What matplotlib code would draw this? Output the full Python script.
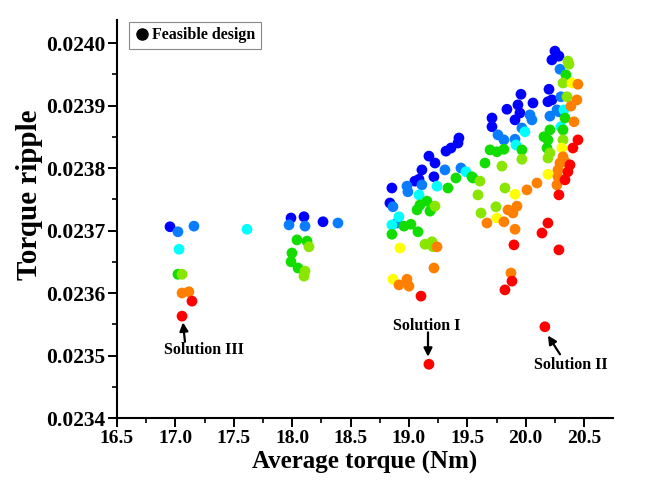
import matplotlib
matplotlib.use("Agg")
import matplotlib.pyplot as plt
from matplotlib.colors import ListedColormap
from matplotlib.lines import Line2D
from matplotlib.ticker import MultipleLocator, FormatStrFormatter

plt.rcParams['font.family'] = ['Liberation Serif', 'DejaVu Serif']
plt.rcParams['font.weight'] = 'bold'

# colour level of each design (0 = blue ... 7 = red)
level_colors = ['#0000ff', '#0a7dff', '#00ffff', '#11dd00', '#88e600',
                '#ffff00', '#ff8000', '#ff0000']

torque = [
    # level 0
    16.954, 17.990, 18.101, 18.264, 18.854, 18.837, 19.051, 19.086, 19.111, 19.171,
    19.223, 19.214, 19.317, 19.360, 19.428, 19.420, 19.959, 19.839, 19.933, 20.062,
    19.711, 19.711, 19.908, 19.950, 20.250, 20.284, 20.224, 20.199, 20.224, 20.190,
    # level 1
    17.022, 17.159, 17.973, 18.110, 18.392, 19.111, 18.983, 18.991, 18.863, 18.897,
    19.308, 19.445, 20.036, 20.053, 19.762, 19.813, 19.967, 19.908, 20.293, 20.301,
    20.284, 20.207, 20.267,
    # level 2
    17.613, 17.031, 19.240, 19.086, 18.914, 18.854, 19.488, 19.993, 19.916, 20.327,
    20.301,
    # level 3
    17.022, 18.041, 18.127, 17.998, 17.990, 18.050, 19.402, 19.334, 19.548, 19.154,
    19.094, 19.069, 19.180, 19.017, 18.957, 18.854, 19.077, 19.206, 19.694, 19.753,
    19.813, 19.967, 19.651, 19.539, 20.344, 20.336, 20.319, 20.207, 20.156, 20.190,
    20.182,
    # level 4
    17.057, 18.144, 18.110, 18.101, 19.591, 19.223, 19.137, 19.197, 19.206, 19.796,
    19.608, 19.967, 19.822, 19.745, 19.617, 20.361, 20.370, 20.319, 20.353, 20.319,
    20.207, 20.190,
    # level 5
    18.923, 18.863, 19.908, 19.753, 20.396, 20.310, 20.190,
    # level 6
    17.057, 17.116, 19.240, 18.983, 18.914, 19.000, 19.214, 20.010, 20.096, 19.848,
    19.925, 19.890, 19.668, 19.813, 19.908, 19.873, 20.447, 20.438, 20.387, 20.413,
    20.319, 20.293, 20.336, 20.276, 20.276, 20.267,
    # level 7
    17.142, 17.057, 19.103, 19.171, 19.899, 20.139, 20.190, 20.284, 19.882, 19.822,
    20.164, 20.447, 20.404, 20.379, 20.361, 20.336, 20.284,
]

ripple = [
    # level 0
    0.023706, 0.023720, 0.023722, 0.023714, 0.023768, 0.023744, 0.023779, 0.023782, 0.023797, 0.023819,
    0.023808, 0.023786, 0.023827, 0.023832, 0.023848, 0.023840, 0.023918, 0.023894, 0.023901, 0.023904,
    0.023880, 0.023866, 0.023877, 0.023888, 0.023987, 0.023979, 0.023973, 0.023926, 0.023909, 0.023906,
    # level 1
    0.023698, 0.023707, 0.023709, 0.023707, 0.023712, 0.023773, 0.023771, 0.023762, 0.023738, 0.023712,
    0.023797, 0.023800, 0.023885, 0.023877, 0.023853, 0.023845, 0.023864, 0.023846, 0.023958, 0.023914,
    0.023890, 0.023883, 0.023893,
    # level 2
    0.023702, 0.023670, 0.023771, 0.023757, 0.023722, 0.023709, 0.023794, 0.023858, 0.023837, 0.023893,
    0.023866,
    # level 3
    0.023630, 0.023685, 0.023683, 0.023664, 0.023650, 0.023640, 0.023784, 0.023768, 0.023784, 0.023747,
    0.023741, 0.023733, 0.023731, 0.023710, 0.023707, 0.023694, 0.023698, 0.023738, 0.023829, 0.023826,
    0.023830, 0.023829, 0.023808, 0.023786, 0.023949, 0.023880, 0.023861, 0.023861, 0.023850, 0.023845,
    0.023832,
    # level 4
    0.023630, 0.023674, 0.023635, 0.023627, 0.023757, 0.023739, 0.023678, 0.023682, 0.023674, 0.023803,
    0.023779, 0.023814, 0.023768, 0.023738, 0.023728, 0.023971, 0.023966, 0.023936, 0.023914, 0.023845,
    0.023824, 0.023816,
    # level 5
    0.023672, 0.023622, 0.023758, 0.023720, 0.023936, 0.023832, 0.023790,
    # level 6
    0.023600, 0.023602, 0.023674, 0.023622, 0.023613, 0.023611, 0.023640, 0.023765, 0.023776, 0.023733,
    0.023739, 0.023728, 0.023712, 0.023714, 0.023702, 0.023632, 0.023934, 0.023909, 0.023899, 0.023874,
    0.023818, 0.023808, 0.023810, 0.023797, 0.023786, 0.023773,
    # level 7
    0.023587, 0.023563, 0.023595, 0.023486, 0.023677, 0.023696, 0.023712, 0.023669, 0.023619, 0.023605,
    0.023546, 0.023845, 0.023832, 0.023805, 0.023794, 0.023781, 0.023757,
]

level = ([0] * 30 + [1] * 23 + [2] * 11 + [3] * 31 + [4] * 22 + [5] * 7
         + [6] * 26 + [7] * 17)

xticks = [16.5, 17.0, 17.5, 18.0, 18.5, 19.0, 19.5, 20.0, 20.5]
yticks = [0.0234, 0.0235, 0.0236, 0.0237, 0.0238, 0.0239, 0.0240]

fig = plt.figure(figsize=(6.51, 4.88), dpi=100)
ax = fig.add_axes([0.1797, 0.1434, 0.7619, 0.8156])

cmap = ListedColormap(level_colors)
ax.scatter(torque, ripple, c=level, cmap=cmap, vmin=-0.5, vmax=7.5,
           s=60, linewidths=0, zorder=3)

ax.set_xlim(16.5, 20.747)
ax.set_ylim(0.0234, 0.0240368)
ax.set_xticks(xticks)
ax.set_yticks(yticks)
ax.xaxis.set_minor_locator(MultipleLocator(0.25))
ax.yaxis.set_minor_locator(MultipleLocator(0.00005))
ax.xaxis.set_major_formatter(FormatStrFormatter('%.1f'))
ax.yaxis.set_major_formatter(FormatStrFormatter('%.4f'))

for s in ['top', 'right']:
    ax.spines[s].set_visible(False)
for s in ['left', 'bottom']:
    ax.spines[s].set_linewidth(1.5)
ax.tick_params(which='major', length=6.5, width=1.4, pad=2)
ax.tick_params(axis='x', which='major', labelsize=14)
ax.tick_params(axis='y', which='major', labelsize=15.5, pad=2)
ax.tick_params(which='minor', length=3.5, width=1.2)
for lab in ax.get_xticklabels() + ax.get_yticklabels():
    lab.set_fontweight('bold')

ax.set_xlabel('Average torque (Nm)', fontsize=18, fontweight='bold', labelpad=3)
ax.set_ylabel('Torque ripple', fontsize=21, fontweight='bold')
ax.yaxis.set_label_coords(-0.149, 0.56)

arrowprops = dict(arrowstyle='-|>,head_width=0.25,head_length=0.5',
                  color='black', lw=1.6, shrinkA=0, shrinkB=0)
ax.annotate('', xy=(17.065, 0.023553), xytext=(17.082, 0.023522),
            arrowprops=arrowprops)
ax.text(17.245, 0.023509, 'Solution III', ha='center', va='center',
        fontsize=11.5, fontweight='bold')
ax.annotate('', xy=(19.163, 0.023498), xytext=(19.163, 0.023537),
            arrowprops=arrowprops)
ax.text(19.154, 0.023547, 'Solution I', ha='center', va='center',
        fontsize=11.5, fontweight='bold')
ax.annotate('', xy=(20.19, 0.023532), xytext=(20.293, 0.023502),
            arrowprops=arrowprops)
ax.text(20.39, 0.023485, 'Solution II', ha='center', va='center',
        fontsize=11.5, fontweight='bold')

handle = Line2D([], [], marker='o', color='black', linestyle='none',
                markersize=8)
leg = ax.legend([handle], ['Feasible design'], loc='upper left',
                bbox_to_anchor=(0.024, 0.996), fancybox=False, framealpha=1,
                edgecolor='#888888', handletextpad=0.1, borderpad=0.35,
                handlelength=1.0, borderaxespad=0,
                prop={'family': 'Liberation Serif', 'weight': 'bold', 'size': 11.5})
leg.get_frame().set_linewidth(0.8)

fig.savefig('out.png', dpi=100)
